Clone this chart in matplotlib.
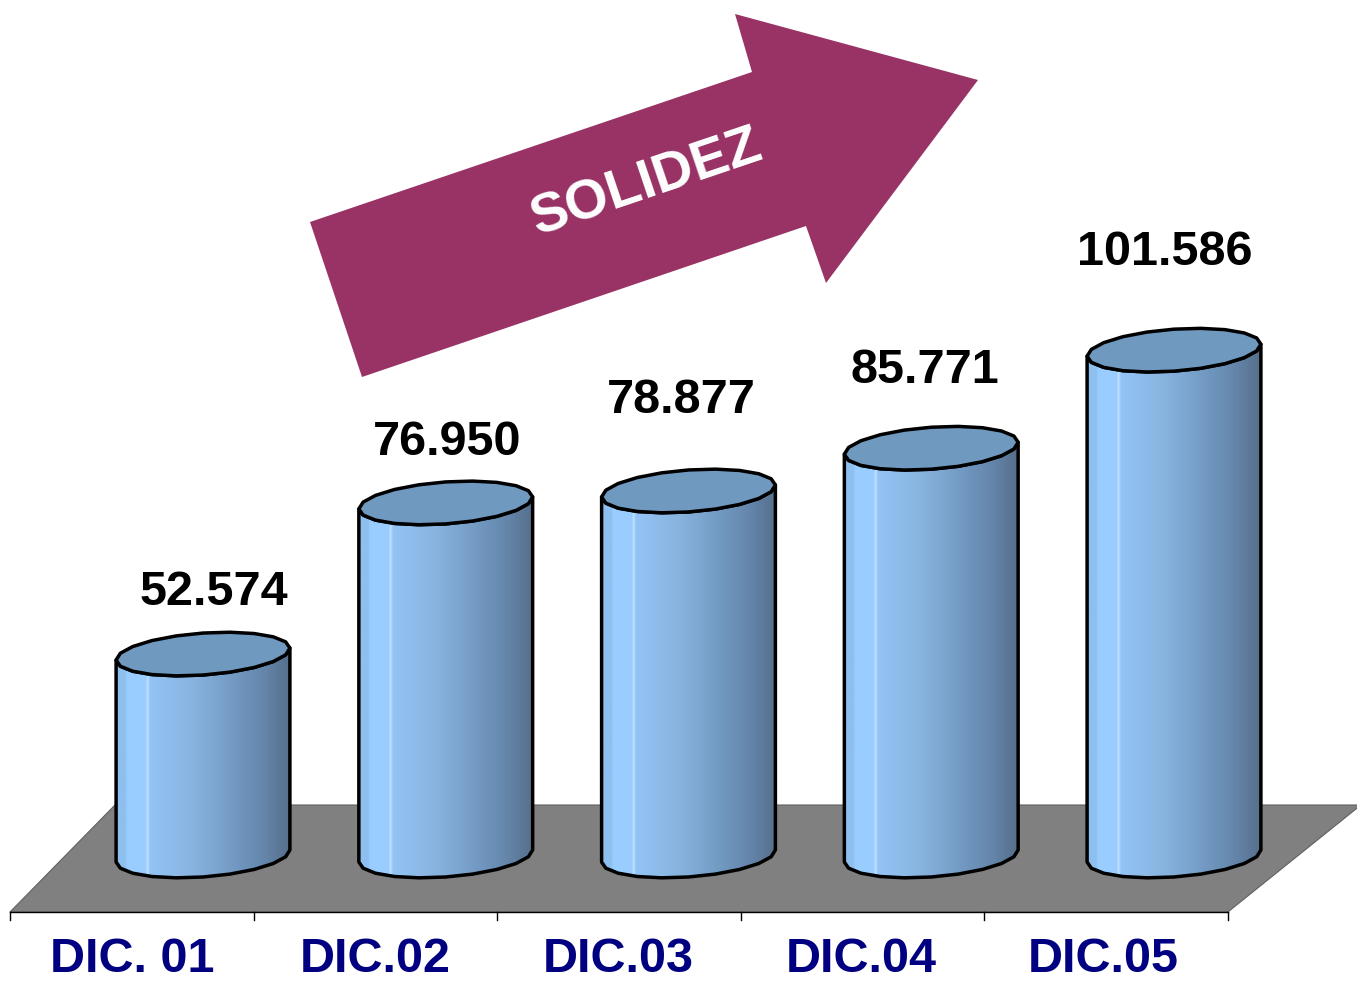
import numpy as np
import matplotlib.pyplot as plt
from matplotlib.patches import Polygon
from matplotlib.colors import LinearSegmentedColormap

plt.rcParams['font.family'] = ['Liberation Sans', 'DejaVu Sans']

# datos
categorias = ['DIC. 01', 'DIC.02', 'DIC.03', 'DIC.04', 'DIC.05']
valores = [52.574, 76.950, 78.877, 85.771, 101.586]
etiquetas = ['52.574', '76.950', '78.877', '85.771', '101.586']
base = 20  # minimo del eje de valores

# ajustes manuales de las etiquetas (como en el original)
etq_dx = [0.045, 0.004, -0.03, -0.025, -0.037]
etq_dy = [7.9, 7.7, 12.6, 10.5, 13.7]

# escala en pixeles
px_cat = 242.75   # pixeles por categoria
px_val = 6.2      # pixeles por unidad de valor

fig = plt.figure(figsize=(13.57, 9.84), dpi=100)
ax = fig.add_axes([0, 0, 1, 1])
ax.axis('off')

# suelo gris en perspectiva
y_frente = base - 56 / px_val
y_fondo = base + 51 / px_val
suelo = Polygon([(-0.795, y_frente), (4.222, y_frente), (4.77, y_fondo), (-0.3625, y_fondo)],
                closed=True, facecolor='#808080', edgecolor='#606060', lw=0.8, zorder=1)
ax.add_patch(suelo)
ax.plot([-0.795, 4.222], [y_frente, y_frente], color='black', lw=1.0, zorder=2)
for k in range(6):
    xt = -0.795 + k * (4.222 + 0.795) / 5
    ax.plot([xt, xt], [y_frente, y_frente - 8 / px_val], color='black', lw=1.0, zorder=2)

# cilindros
a = 0.358
b = 21 / px_val
incl = 6 / px_val
cmap = LinearSegmentedColormap.from_list('cil', [
    (0.0, '#8dbfef'), (0.05, '#8dbfef'), (0.06, '#9acdff'), (0.17, '#99ccff'),
    (0.18, '#c8e4ff'), (0.19, '#93c4f6'), (0.45, '#88b3df'), (0.7, '#7097bf'),
    (0.85, '#6586ab'), (1.0, '#566f8c')])
grad = cmap(np.linspace(0, 1, 300))[None, :, :]


def elipse(cx, cy, t0, t1, n):
    th = np.linspace(t0, t1, n)
    return np.column_stack([cx + a * np.cos(th), cy + b * np.sin(th) + incl * np.cos(th)])


for i, v in enumerate(valores):
    cuerpo = np.vstack([elipse(i, v, np.pi, 2 * np.pi, 11),
                        elipse(i, base, 2 * np.pi, np.pi, 11)])
    pc = Polygon(cuerpo, closed=True, facecolor='none', edgecolor='black', lw=2.5,
                 joinstyle='round', zorder=4)
    ax.add_patch(pc)
    im = ax.imshow(grad, extent=[i - a, i + a, base - b - incl, v + b + incl],
                   aspect='auto', zorder=3, interpolation='bilinear')
    im.set_clip_path(pc)
    tapa = Polygon(elipse(i, v, 0, 2 * np.pi, 21), closed=True, facecolor='#7099c0',
                   edgecolor='black', lw=2.5, joinstyle='round', zorder=5)
    ax.add_patch(tapa)
    ax.text(i + etq_dx[i], v + etq_dy[i], etiquetas[i], fontsize=35, fontweight='bold',
            ha='center', va='baseline', color='black', zorder=6)
    ax.text(i - 0.29, base - 126 / px_val, categorias[i], fontsize=35, fontweight='bold',
            ha='center', va='bottom', color='#000080', zorder=6)

ax.set_xlim(-203 / px_cat, (1357 - 203) / px_cat)
ax.set_ylim(base - (984 - 856) / px_val, base + 856 / px_val)
ax.set_aspect('auto')

# flecha "SOLIDEZ" (en pixeles de la figura)
W, H = 1357, 984
flecha = [(362, 377), (310, 222), (752, 72), (735, 14), (978, 80), (826, 283), (806, 226)]
fig.patches.append(Polygon([(x / W, 1 - y / H) for x, y in flecha], closed=True,
                           transform=fig.transFigure, facecolor='#993366', edgecolor='none'))
fig.text(647 / W, 1 - 184 / H, 'SOLIDEZ', fontsize=40, fontweight='bold', color='white',
         rotation=18.7, ha='center', va='center', rotation_mode='anchor')

fig.savefig('out.png', dpi=100)
